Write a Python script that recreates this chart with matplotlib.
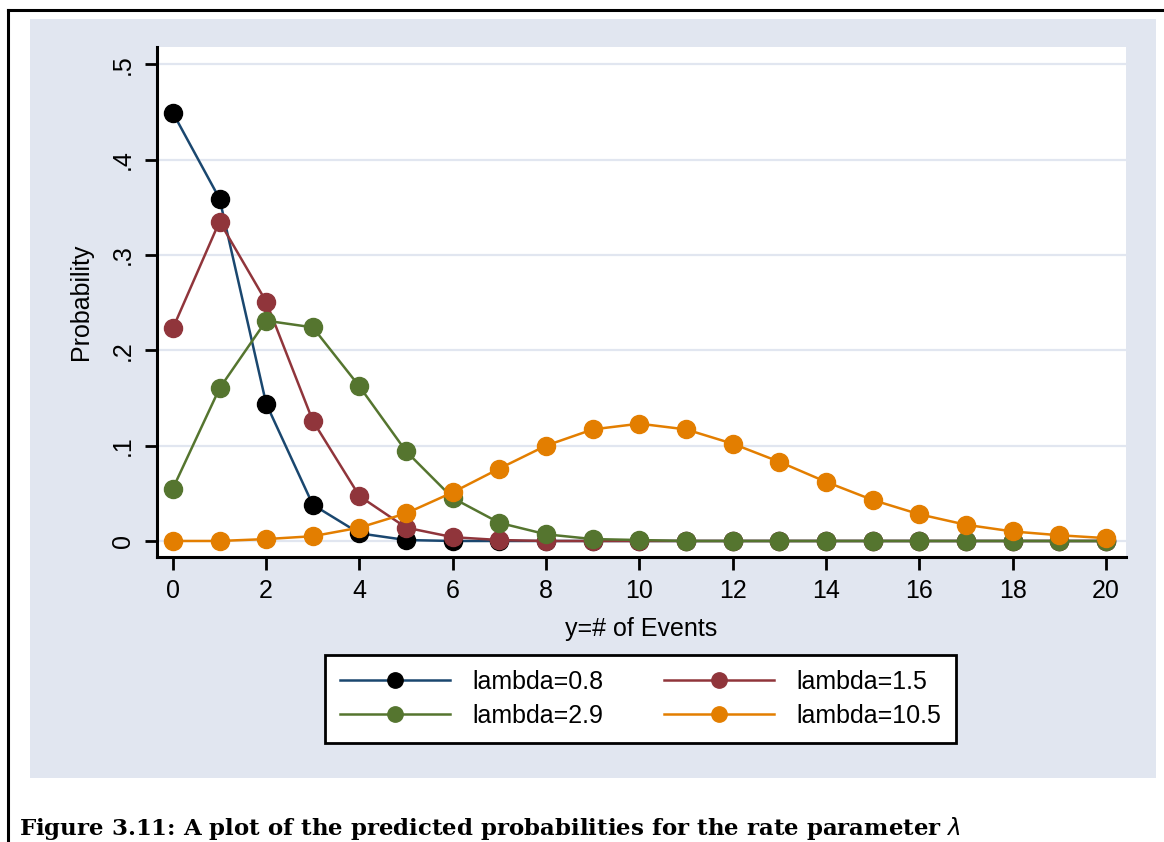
import numpy as np
import matplotlib.pyplot as plt
from matplotlib.lines import Line2D
from matplotlib.patches import Rectangle

# y = number of events
events = list(range(21))

# predicted probabilities
p_08 = [0.449, 0.359, 0.144, 0.038, 0.008, 0.001, 0.000, 0.000, 0.000, 0.000,
        0.000, 0.000, 0.000, 0.000, 0.000, 0.000, 0.000, 0.000, 0.000, 0.000, 0.000]
p_15 = [0.223, 0.335, 0.251, 0.126, 0.047, 0.014, 0.004, 0.001, 0.000, 0.000,
        0.000, 0.000, 0.000, 0.000, 0.000, 0.000, 0.000, 0.000, 0.000, 0.000, 0.000]
p_29 = [0.055, 0.160, 0.231, 0.224, 0.162, 0.094, 0.045, 0.019, 0.007, 0.002,
        0.001, 0.000, 0.000, 0.000, 0.000, 0.000, 0.000, 0.000, 0.000, 0.000, 0.000]
p_105 = [0.000, 0.000, 0.002, 0.005, 0.014, 0.029, 0.051, 0.076, 0.100, 0.117,
         0.123, 0.117, 0.102, 0.083, 0.062, 0.043, 0.028, 0.017, 0.010, 0.006, 0.003]

labels = ["lambda=0.8", "lambda=1.5", "lambda=2.9", "lambda=10.5"]
line_colors = ["#1A476F", "#90353B", "#55752F", "#E37E00"]
marker_colors = ["black", "#90353B", "#55752F", "#E37E00"]

plt.rcParams["font.family"] = ["Liberation Sans", "DejaVu Sans"]

W, H = 1164, 842
fig = plt.figure(figsize=(W / 100, H / 100), dpi=100)
fig.patch.set_facecolor("white")

# page frame lines and Stata graph region
fig.add_artist(Line2D([8 / W, 1], [1 - 10 / H, 1 - 10 / H], color="black", lw=2.2))
fig.add_artist(Line2D([8 / W, 8 / W], [0, 1 - 10 / H], color="black", lw=2.2))
fig.add_artist(Rectangle((30 / W, 1 - 778 / H), (1156 - 30) / W, (778 - 19) / H,
                         facecolor="#E1E6F0", edgecolor="none", zorder=-5))

ax = fig.add_axes([157 / W, 1 - 557 / H, (1126 - 157) / W, (557 - 47) / H])
ax.set_facecolor("white")

series = [p_08, p_15, p_29, p_105]
handles = []
for vals, lab, lc, mc in zip(series, labels, line_colors, marker_colors):
    h, = ax.plot(events, vals, color=lc, lw=1.8, marker="o", markersize=13,
                 markerfacecolor=mc, markeredgecolor=mc, label=lab, clip_on=False)
    handles.append(h)

ax.set_xlim(-0.34, 20.43)
ax.set_ylim(-0.0168, 0.518)
ax.set_xticks(range(0, 21, 2))
ax.set_yticks([0, 0.1, 0.2, 0.3, 0.4, 0.5])
ax.set_yticklabels(["0", ".1", ".2", ".3", ".4", ".5"], rotation=90, va="center")
ax.grid(axis="y", color="#E1E6F0", lw=1.6)
ax.set_axisbelow(True)

for s in ["top", "right"]:
    ax.spines[s].set_visible(False)
for s in ["left", "bottom"]:
    ax.spines[s].set_linewidth(2.2)
ax.tick_params(length=9, width=2, labelsize=18, pad=7)

ax.set_xlabel("y=# of Events", fontsize=18, labelpad=10)
ax.set_ylabel("Probability", fontsize=18, labelpad=13)

# row-wise legend order: 0.8, 1.5 / 2.9, 10.5
order = [0, 2, 1, 3]
leg = fig.legend([handles[i] for i in order], [labels[i] for i in order],
                 loc="center", bbox_to_anchor=(640.5 / W, 1 - 699 / H), ncol=2,
                 fontsize=18, handlelength=4.4, markerscale=0.85, frameon=True,
                 fancybox=False, edgecolor="black", facecolor="white", framealpha=1,
                 columnspacing=2.4, borderpad=0.6, labelspacing=0.4,
                 handletextpad=0.9)
leg.get_frame().set_linewidth(2)

fig.text(19 / W, 1 - 828 / H,
         r"Figure 3.11: A plot of the predicted probabilities for the rate parameter $\lambda$",
         fontsize=16.5, fontweight="bold", family="DejaVu Serif", va="center")

fig.savefig("out.png", dpi=100)
